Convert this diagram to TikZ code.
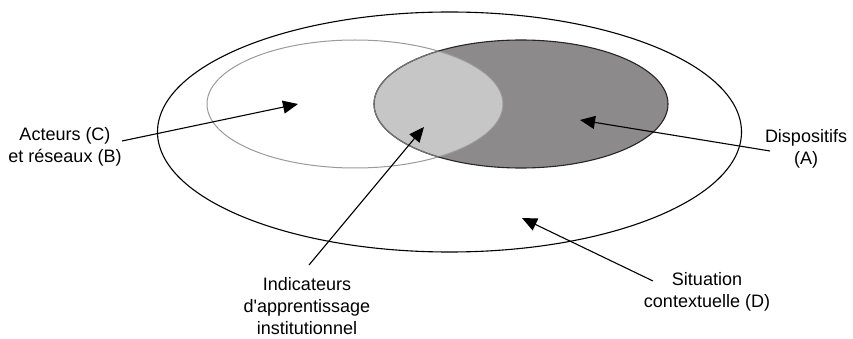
\documentclass[tikz,border=0pt]{standalone}
\usepackage{fontspec}
\setmainfont{Liberation Sans}
\usetikzlibrary{arrows.meta}
\definecolor{darkA}{HTML}{8C8A8B}
\definecolor{lightI}{HTML}{C6C6C6}
\definecolor{outC}{HTML}{9A9A9A}
\begin{document}
\begin{tikzpicture}[x=1pt,y=-1pt,
  lbl/.style={font=\fontsize{18}{22}\selectfont, align=center, inner sep=0pt},
  ptr/.style={line width=1.1pt, -{Triangle[length=15pt,width=13pt]}}]
\useasboundingbox (0,0) rectangle (853,339);
% outer ellipse D
\draw[line width=1.1pt] (449.5,132) ellipse [x radius=292, y radius=120];
% dispositifs A
\fill[darkA] (521,104) ellipse [x radius=147, y radius=64];
\begin{scope}
  \clip (355,104) ellipse [x radius=148, y radius=64];
  \fill[lightI] (521,104) ellipse [x radius=147, y radius=64];
\end{scope}
\draw[line width=1pt, outC] (355,104) ellipse [x radius=148, y radius=64];
\draw[line width=1.1pt, black!85] (521,104) ellipse [x radius=147, y radius=64];
\begin{scope}
  \clip (355,104) ellipse [x radius=148, y radius=64];
  \draw[line width=1.1pt, black!55] (521,104) ellipse [x radius=147, y radius=64];
\end{scope}
% labels
\node[lbl] (acteurs) at (65,147) {Acteurs (C)\\et réseaux (B)};
\node[lbl] (dispo) at (806,149) {Dispositifs\\(A)};
\node[lbl] (indic) at (307,306) {Indicateurs\\d\textquotesingle apprentissage\\institutionnel};
\node[lbl] (situ) at (707,292) {Situation\\contextuelle (D)};
% tip coordinates
\coordinate (tC) at (298,104);
\coordinate (tA) at (580,120);
\coordinate (tI) at (424,127);
\coordinate (tD) at (522,218);
\coordinate (sC) at (122,141);
\coordinate (sA) at (770,151);
\coordinate (sI) at (309,265);
\coordinate (sD) at (653,281);
\draw[ptr] (sC) -- (tC);
\draw[ptr] (sA) -- (tA);
\draw[ptr] (sI) -- (tI);
\draw[ptr] (sD) -- (tD);
\end{tikzpicture}
\end{document}
